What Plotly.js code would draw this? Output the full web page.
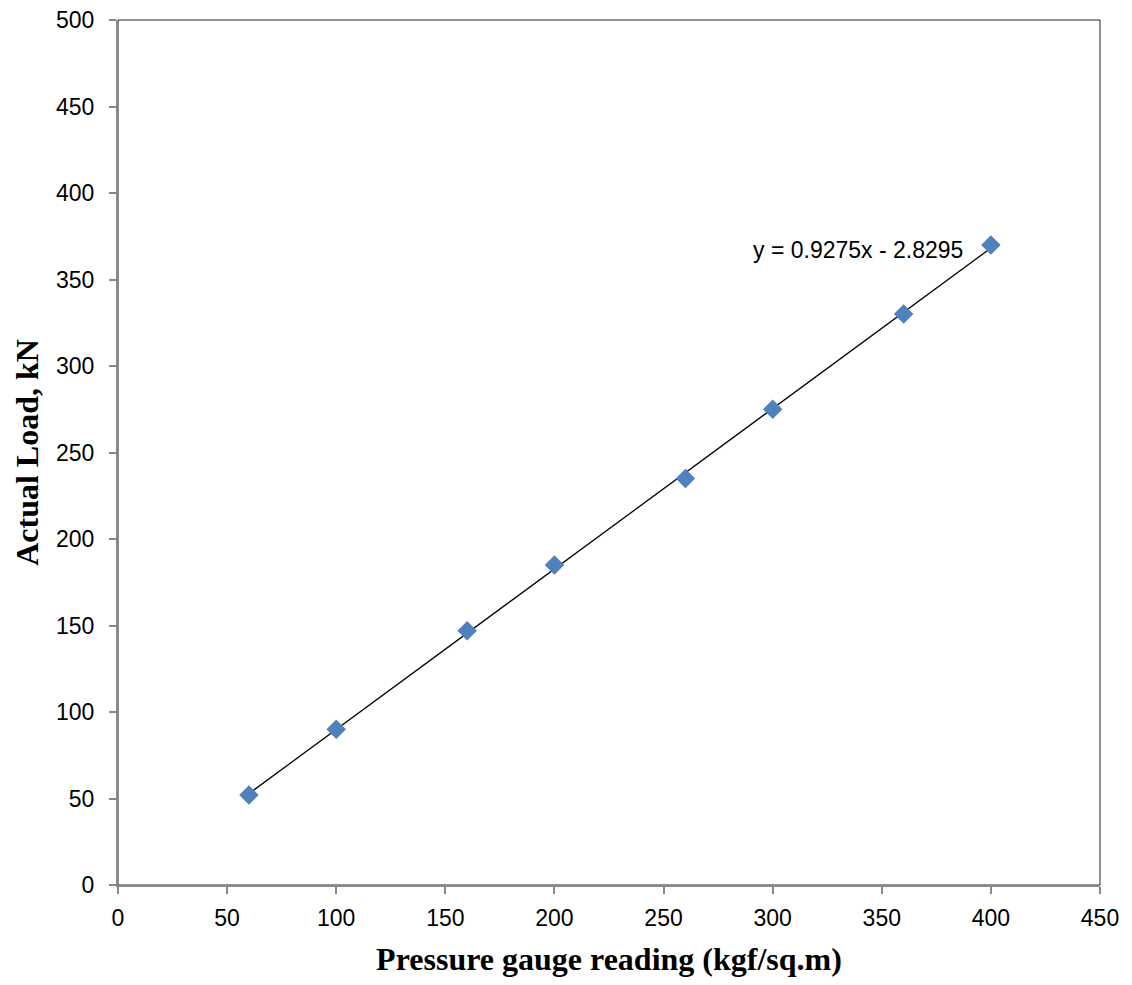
<!DOCTYPE html>
<html>
<head>
<meta charset="utf-8">
<script src="https://cdn.plot.ly/plotly-3.0.1.min.js"></script>
<style>html,body{margin:0;padding:0;background:#fff;}#chart{width:1132px;height:985px;}</style>
</head>
<body>
<div id="chart"></div>
<script>
const gaugeReading = [60, 100, 160, 200, 260, 300, 360, 400];
const actualLoad = [52, 90, 147, 185, 235, 275, 330, 370];
const trendX = [60, 400];
const trendY = [52.82, 368.17];
const equationText = "y = 0.9275x - 2.8295";
const xTitle = "Pressure gauge reading (kgf/sq.m)";
const yTitle = "Actual Load, kN";

const traces = [
  {
    x: trendX, y: trendY, mode: "lines", type: "scatter",
    line: {color: "#000000", width: 1.3}, hoverinfo: "skip", showlegend: false
  },
  {
    x: gaugeReading, y: actualLoad, mode: "markers", type: "scatter",
    marker: {symbol: "diamond", size: 15, color: "#4F81BD", line: {width: 0}},
    showlegend: false
  }
];

const tickFont = {family: "Liberation Sans, Arial, sans-serif", size: 23, color: "#000"};
const titleFont = {family: "Liberation Serif, Times New Roman, serif", size: 32, color: "#000", weight: "bold"};

const layout = {
  width: 1132, height: 985,
  margin: {l: 118, r: 32, t: 20, b: 100},
  paper_bgcolor: "#ffffff", plot_bgcolor: "#ffffff",
  font: {family: "Liberation Sans, Arial, sans-serif", size: 23, color: "#000"},
  showlegend: false,
  xaxis: {
    range: [0, 450], tickmode: "linear", tick0: 0, dtick: 50,
    showgrid: false, zeroline: false,
    showline: true, linecolor: "#888888", linewidth: 2,
    ticks: "outside", ticklen: 7, tickcolor: "#888888", tickwidth: 2,
    ticklabelstandoff: 4,
    tickfont: tickFont,
    title: {text: xTitle, font: titleFont, standoff: 18}
  },
  yaxis: {
    range: [0, 500], tickmode: "linear", tick0: 0, dtick: 50,
    showgrid: false, zeroline: false,
    showline: true, linecolor: "#888888", linewidth: 2,
    ticks: "outside", ticklen: 7, tickcolor: "#888888", tickwidth: 2,
    ticklabelstandoff: 10,
    tickfont: tickFont,
    title: {text: yTitle, font: titleFont, standoff: 8}
  },
  shapes: [
    {type: "rect", xref: "paper", yref: "paper", x0: 0, x1: 1, y0: 0, y1: 1,
     line: {color: "#222222", width: 1}, layer: "below"}
  ],
  annotations: [
    {x: 388, y: 367, xref: "x", yref: "y", text: equationText, showarrow: false,
     xanchor: "right", yanchor: "middle",
     font: {family: "Liberation Sans, Arial, sans-serif", size: 23, color: "#000"}}
  ]
};

Plotly.newPlot("chart", traces, layout, {displayModeBar: false, staticPlot: true});
</script>
</body>
</html>
